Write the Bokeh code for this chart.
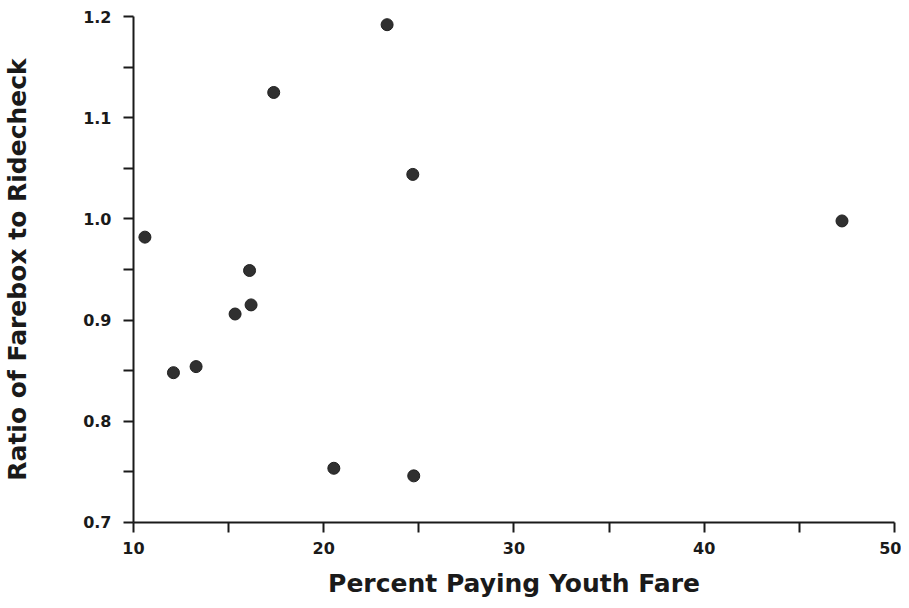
from bokeh.plotting import figure
from bokeh.models import Range1d, FixedTicker, ColumnDataSource, PrintfTickFormatter
from bokeh.embed import file_html
from bokeh.resources import INLINE

pct_youth = [10.6, 23.33, 17.37, 24.68, 16.1, 16.18, 15.34, 12.1, 13.29, 20.53, 24.73, 47.24]
ratio = [0.982, 1.192, 1.125, 1.044, 0.949, 0.915, 0.906, 0.848, 0.854, 0.7535, 0.746, 0.998]

x_ticks = [10, 20, 30, 40, 50]
x_minor = [15, 25, 35, 45]
y_ticks = [0.7, 0.8, 0.9, 1.0, 1.1, 1.2]
y_minor = [0.75, 0.85, 0.95, 1.05, 1.15]

x_label = "Percent Paying Youth Fare"
y_label = "Ratio of Farebox to Ridecheck"

FONT = "DejaVu Sans"
INK = "#1a1a1a"

p = figure(width=901, height=600, output_backend="svg", toolbar_location=None,
           x_range=Range1d(10, 50.0001), y_range=Range1d(0.6999, 1.2001),
           min_border_left=133, min_border_right=7, min_border_top=16, min_border_bottom=70)
p.outline_line_color = None
p.grid.visible = False
p.background_fill_color = "white"

src = ColumnDataSource(dict(x=pct_youth, y=ratio))
p.scatter("x", "y", source=src, size=12, fill_color="#303030", line_color="#202020", line_width=1)

p.xaxis.ticker = FixedTicker(ticks=x_ticks, minor_ticks=x_minor)
p.yaxis.ticker = FixedTicker(ticks=y_ticks, minor_ticks=y_minor)
p.xaxis.formatter = PrintfTickFormatter(format="%d")
p.yaxis.formatter = PrintfTickFormatter(format="%.1f")

for ax in (p.xaxis, p.yaxis):
    ax.axis_line_width = 2
    ax.axis_line_color = INK
    ax.major_tick_line_width = 2
    ax.minor_tick_line_width = 2
    ax.major_tick_line_color = INK
    ax.minor_tick_line_color = INK
    ax.major_tick_out = 10
    ax.major_tick_in = 0
    ax.minor_tick_out = 10
    ax.minor_tick_in = 0
    ax.major_label_text_font = FONT
    ax.major_label_text_font_style = "bold"
    ax.major_label_text_font_size = "16px"
    ax.major_label_text_color = INK
    ax.axis_label_text_font = FONT
    ax.axis_label_text_font_style = "bold"
    ax.axis_label_text_font_size = "25px"
    ax.axis_label_text_color = INK

p.xaxis.axis_label = x_label
p.yaxis.axis_label = y_label
p.xaxis.major_label_standoff = 9
p.yaxis.major_label_standoff = 12
p.xaxis.axis_label_standoff = 12
p.yaxis.axis_label_standoff = 48

open("out.html", "w").write(file_html(p, INLINE))
